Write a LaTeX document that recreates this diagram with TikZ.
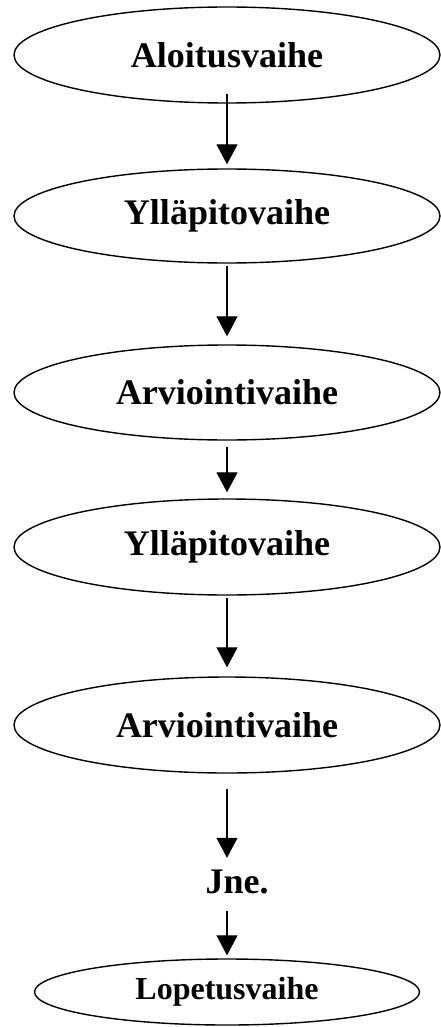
\documentclass[tikz,border=0pt]{standalone}
\usepackage{fontspec}
\setmainfont{Liberation Serif}
\usepackage{tikz}
\usetikzlibrary{arrows.meta,shapes.geometric,positioning,calc}

\tikzset{
  phase/.style={draw, ellipse, line width=1.4pt, inner sep=0pt,
    minimum width=426pt, minimum height=96pt,
    font=\fontsize{36}{36}\selectfont\bfseries},
  flow/.style={line width=1.2pt, -{Triangle[width=21pt,length=20pt]}}
}

\begin{document}
\begin{tikzpicture}[x=1pt, y=-1pt]
\useasboundingbox (0,0) rectangle (441,1027);
\node[phase] (aloitus) at (227,55) {Aloitusvaihe};
\node[phase, minimum height=94pt] (yllapitoA) at (227,216) {Ylläpitovaihe};
\node[phase, minimum height=95pt] (arviointiA) at (227,392.5) {Arviointivaihe};
\node[phase] (yllapitoB) at (227,547) {Ylläpitovaihe};
\node[phase] (arviointiB) at (227,725) {Arviointivaihe};
\node[font=\fontsize{36}{36}\selectfont\bfseries, inner sep=0pt] (jne) at (237,882) {Jne.};
\node[phase, minimum width=385pt, minimum height=66pt,
  font=\fontsize{32}{32}\selectfont\bfseries] (lopetus) at (227,992) {Lopetusvaihe};
% arrows between the phases
\foreach \a/\b/\s/\e in {aloitus/yllapitoA/10/4, yllapitoA/arviointiA/-2/8,
  arviointiA/yllapitoB/-6/6, yllapitoB/arviointiB/-2/9} {
  \draw[flow] ([yshift=\s pt]\a.south) -- ([yshift=\e pt]\b.north);
}
\draw[flow] ([yshift=-15pt]arviointiB.south) -- ([yshift=12pt]arviointiB.south |- jne.north);
\draw[flow] ([yshift=-17pt]lopetus.north |- jne.base) -- ([yshift=3pt]lopetus.north);
\end{tikzpicture}
\end{document}
